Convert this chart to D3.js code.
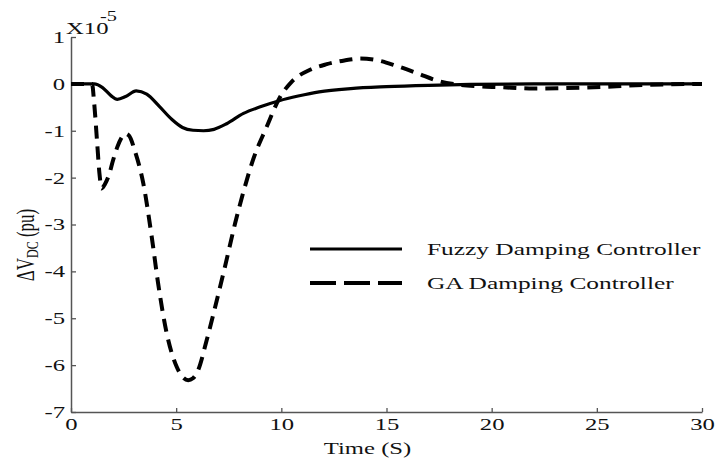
<!DOCTYPE html>
<html>
<head>
<meta charset="utf-8">
<script src="https://cdn.jsdelivr.net/npm/d3@7"></script>
<style>
  body { margin: 0; background: #fff; }
  svg text { font-family: "Liberation Serif", "Times New Roman", serif; fill: #111; }
</style>
</head>
<body>
<div id="chart"></div>
<script>
// time axis (s)
const xTicks = [0, 5, 10, 15, 20, 25, 30];
const yTicks = [1, 0, -1, -2, -3, -4, -5, -6, -7];

// fuzzy damping controller, x1e-5 pu
const fuzzyT = [0, 1.1, 1.5, 1.9, 2.2, 2.6, 3.1, 3.6, 4.2, 4.8, 5.3, 5.8, 6.3, 6.8, 7.4, 8.2, 9.0, 9.9, 10.8, 11.8, 13.3, 15, 17, 19, 22, 26, 30];
const fuzzyV = [0, 0, -0.08, -0.25, -0.33, -0.27, -0.15, -0.22, -0.48, -0.76, -0.93, -0.99, -1.0, -0.97, -0.85, -0.63, -0.49, -0.36, -0.26, -0.17, -0.1, -0.06, -0.03, -0.01, 0, 0, 0];

// GA damping controller
const gaT = [0, 1.0, 1.1, 1.25, 1.35, 1.46, 1.6, 1.8, 2.0, 2.2, 2.4, 2.57, 2.75, 3.05, 3.44, 3.84, 4.14, 4.55, 5.03, 5.3, 5.57, 5.8, 6.04, 6.45, 6.93, 7.32, 7.8, 8.2, 8.67, 9.3, 9.94, 10.5, 11.36, 12.16, 13.0, 13.74, 14.6, 15.5, 16.5, 17.4, 18.3, 19.3, 20.4, 22, 24.4, 27.5, 30];
const gaV = [0, 0, -0.4, -1.3, -1.9, -2.23, -2.15, -1.95, -1.63, -1.35, -1.15, -1.06, -1.1, -1.45, -2.13, -3.27, -4.25, -5.32, -6.04, -6.25, -6.32, -6.28, -6.11, -5.47, -4.62, -3.9, -2.98, -2.3, -1.6, -0.92, -0.28, 0.05, 0.3, 0.42, 0.5, 0.54, 0.5, 0.38, 0.22, 0.07, -0.01, -0.05, -0.07, -0.1, -0.08, -0.02, 0];

const legendLabels = ["Fuzzy Damping Controller", "GA Damping Controller"];

const width = 721, height = 462;
const margin = { left: 71, right: 19, top: 37, bottom: 50 };
const stretch = 1.45; // the picture is wide, glyphs look stretched

const svg = d3.select('#chart')
  .append('svg')
  .attr('width', width)
  .attr('height', height);

const x = d3.scaleLinear().domain([0, 30]).range([margin.left, width - margin.right]);
const y = d3.scaleLinear().domain([-7, 1]).range([height - margin.bottom, margin.top]);

// axes
const xAxis = svg.append('g')
  .attr('transform', `translate(0,${y(-7)})`)
  .call(d3.axisBottom(x).tickValues(xTicks).tickSize(-4).tickSizeOuter(0).tickPadding(6).tickFormat(d => String(d)));
const yAxis = svg.append('g')
  .attr('transform', `translate(${x(0)},0)`)
  .call(d3.axisLeft(y).tickValues(yTicks).tickSize(-5).tickSizeOuter(0).tickPadding(6).tickFormat(d => String(d)));

[xAxis, yAxis].forEach(g => {
  g.select('.domain').attr('stroke', '#555').attr('stroke-width', 1.5);
  g.selectAll('.tick line').attr('stroke', '#555').attr('stroke-width', 1.3);
  g.selectAll('.tick text').attr('font-size', 17).attr('fill', '#111')
    .style('font-family', '"Liberation Serif", serif');
});

// curves
const line = d3.line()
  .x(d => x(d[0]))
  .y(d => y(d[1]))
  .curve(d3.curveMonotoneX);

svg.append('path')
  .datum(gaT.map((t, i) => [t, gaV[i]]))
  .attr('d', line)
  .attr('fill', 'none')
  .attr('stroke', '#000')
  .attr('stroke-width', 4)
  .attr('stroke-dasharray', '13,8');

svg.append('path')
  .datum(fuzzyT.map((t, i) => [t, fuzzyV[i]]))
  .attr('d', line)
  .attr('fill', 'none')
  .attr('stroke', '#000')
  .attr('stroke-width', 3.2);

// legend
const legend = svg.append('g');
legendLabels.forEach((label, i) => {
  const ly = 249 + i * 34;
  legend.append('line')
    .attr('x1', 310).attr('x2', 402)
    .attr('y1', ly).attr('y2', ly)
    .attr('stroke', '#000')
    .attr('stroke-width', i === 0 ? 3.2 : 4)
    .attr('stroke-dasharray', i === 0 ? null : '26,8');
  legend.append('text')
    .attr('class', 'stretch')
    .attr('x', 427).attr('y', ly + 6)
    .attr('font-size', 17.5)
    .text(label);
});

// axis titles
svg.append('text')
  .attr('class', 'stretch')
  .attr('x', x(14.1)).attr('y', 454)
  .attr('text-anchor', 'middle')
  .attr('font-size', 17)
  .text('Time (S)');

const yTitle = svg.append('text')
  .attr('transform', `translate(34,245) scale(${stretch},1) rotate(-90)`)
  .attr('text-anchor', 'middle')
  .attr('font-size', 17);
yTitle.append('tspan').text('ΔV');
yTitle.append('tspan').attr('font-size', 12).attr('dy', 3).text('DC');
yTitle.append('tspan').attr('dy', -3).text(' (pu)');

// multiplier
svg.append('text')
  .attr('class', 'stretch')
  .attr('x', 66).attr('y', 34)
  .attr('font-size', 17)
  .text('X10');
svg.append('text')
  .attr('class', 'stretch')
  .attr('x', 100).attr('y', 21)
  .attr('font-size', 14)
  .text('-5');

// widen horizontal text to match the picture
svg.selectAll('text.stretch, .tick text').each(function () {
  const w = this.getComputedTextLength();
  d3.select(this).attr('textLength', w * stretch).attr('lengthAdjust', 'spacingAndGlyphs');
});
</script>
</body>
</html>
